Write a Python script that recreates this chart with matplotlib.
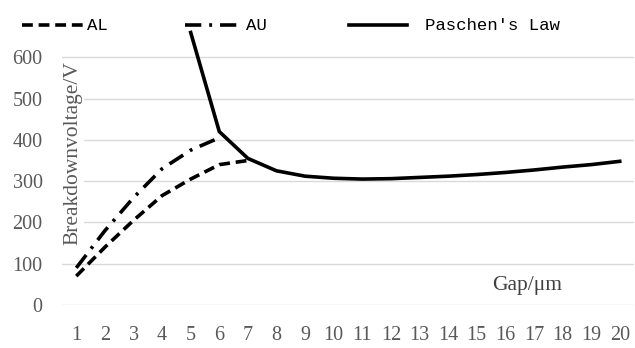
import matplotlib.pyplot as plt
from matplotlib.lines import Line2D

gap = list(range(1, 21))
al_gap = [1, 2, 3, 4, 5, 6, 7]
al_volt = [70, 140, 205, 265, 305, 340, 350]
au_gap = [1, 2, 3, 4, 5, 6]
au_volt = [90, 180, 260, 330, 375, 405]
pa_gap = list(range(5, 21))
pa_volt = [660, 420, 355, 325, 312, 307, 305, 306, 309, 312, 316, 321, 327, 334, 340, 348]
yticks = [0, 100, 200, 300, 400, 500, 600]

W, H = 635, 348
fig = plt.figure(figsize=(W / 100, H / 100), dpi=100)
ax = fig.add_axes([62 / W, 43 / H, 572 / W, 289 / H])

styles = {
    'AL': (0, (3, 1.6)),
    'AU': (0, (4.5, 2.2, 0.8, 2.2)),
    "Paschen's Law": '-',
}
ax.plot(al_gap, al_volt, color='black', lw=2.6, ls=styles['AL'])
ax.plot(au_gap, au_volt, color='black', lw=2.6, ls=styles['AU'])
ax.plot(pa_gap, pa_volt, color='black', lw=2.6, ls=styles["Paschen's Law"])

ax.set_xlim(0.5, 20.5)
ax.set_ylim(0, 700)
ax.set_xticks(gap)
ax.set_yticks(yticks)
for s in ax.spines.values():
    s.set_visible(False)
ax.tick_params(length=0, labelsize=14.5, labelcolor='#595959')
ax.tick_params(axis='y', pad=14)
ax.tick_params(axis='x', pad=15)
for lbl in ax.get_xticklabels() + ax.get_yticklabels():
    lbl.set_family('Liberation Serif')
ax.grid(axis='y', color='#d9d9d9', lw=1)
ax.set_axisbelow(True)

# y label sits inside the plot, over the gridlines
ax.text(11 / 572, 152 / 289, 'Breakdownvoltage/V', transform=ax.transAxes, rotation=90,
        fontsize=15.5, family='Liberation Serif', color='#595959', ha='center', va='center',
        bbox=dict(facecolor='white', edgecolor='none', pad=1))
ax.text(16.75, 48, 'Gap/\u03bcm', fontsize=15.5, family='Liberation Serif', color='#404040',
        ha='center', va='center')

# legend laid out by hand (handle x0, x1, text x) in pixels
legend_pos = [('AL', 22, 84, 87), ('AU', 185, 238, 246), ("Paschen's Law", 349, 407, 425)]
ly = 1 - 25 / H
for name, x0, x1, tx in legend_pos:
    fig.add_artist(Line2D([x0 / W, x1 / W], [ly, ly], transform=fig.transFigure,
                          color='black', lw=2.6, ls=styles[name]))
    fig.text(tx / W, ly, name, family='Liberation Mono', fontsize=12.5,
             ha='left', va='center', color='black')

fig.savefig('out.png', dpi=100)
